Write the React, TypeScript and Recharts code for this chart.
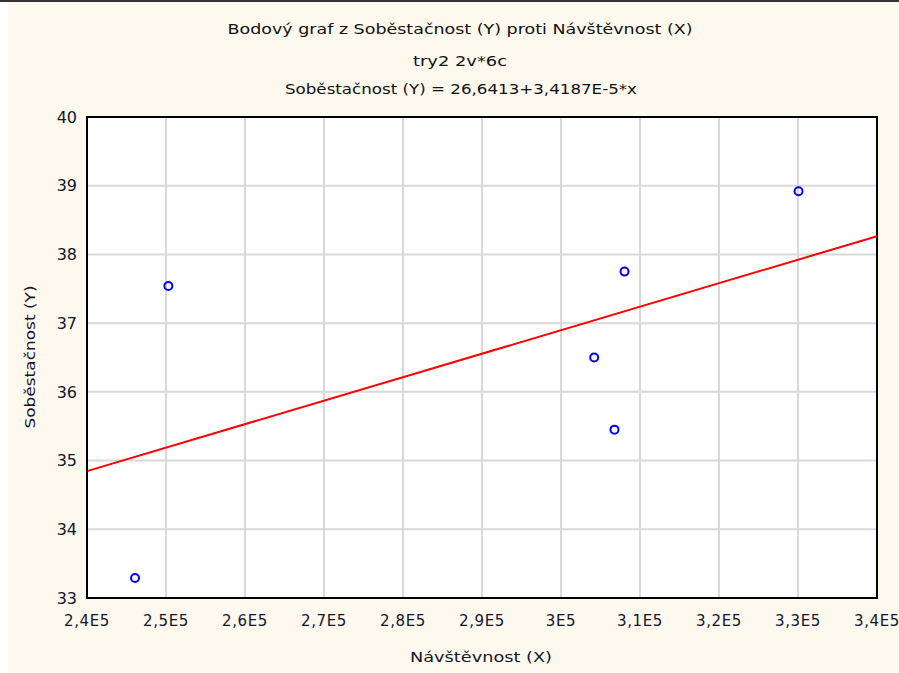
import React from "react";
import {
  ScatterChart,
  Scatter,
  XAxis,
  YAxis,
  CartesianGrid,
  ReferenceLine,
  ReferenceArea,
} from "recharts";

// ---- data ----
const visits = [246080, 250300, 304200, 306770, 308040, 330070];
const selfSufficiency = [33.29, 37.54, 36.5, 35.45, 37.75, 38.92];
const xTicks = [240000, 250000, 260000, 270000, 280000, 290000, 300000, 310000, 320000, 330000, 340000];
const xTickLabels = ["2,4E5", "2,5E5", "2,6E5", "2,7E5", "2,8E5", "2,9E5", "3E5", "3,1E5", "3,2E5", "3,3E5", "3,4E5"];
const yTicks = [33, 34, 35, 36, 37, 38, 39, 40];
const intercept = 26.6413;
const slope = 3.4187e-5;
const titleLines = [
  "Bodový graf z Soběstačnost (Y) proti Návštěvnost (X)",
  "try2 2v*6c",
  "Soběstačnost (Y) = 26,6413+3,4187E-5*x",
];
const xLabel = "Návštěvnost (X)";
const yLabel = "Soběstačnost (Y)";

const points = visits.map((x, i) => ({ x, y: selfSufficiency[i] }));
const xMin = xTicks[0];
const xMax = xTicks[xTicks.length - 1];
const yMin = yTicks[0];
const yMax = yTicks[yTicks.length - 1];

const FONT = "'DejaVu Sans', Verdana, sans-serif";
const TEXT = "#14142a";

const Ring = (props: any) => {
  const { cx, cy } = props;
  if (cx == null || cy == null) return null;
  return <circle cx={cx} cy={cy} r={4} fill="none" stroke="#0000ff" strokeWidth={2} />;
};

export default function App() {
  return (
    <div
      style={{
        position: "absolute",
        left: 0,
        top: 0,
        width: 899,
        height: 673,
        background: "#ffffff",
        overflow: "hidden",
      }}
    >
      <div
        style={{
          position: "absolute",
          left: 8,
          top: 0,
          width: 891,
          height: 673,
          background: "#fdf9ee",
        }}
      />
      <div
        style={{
          position: "absolute",
          left: 0,
          top: 0,
          width: 899,
          height: 2,
          background: "#333333",
        }}
      />
      <div style={{ position: "absolute", left: 0, top: 0 }}>
        <ScatterChart
          width={899}
          height={673}
          margin={{ top: 117, right: 22, bottom: 15, left: 7 }}
        >
          <CartesianGrid fill="#ffffff" stroke="#d9d9d9" strokeWidth={2} />
          <XAxis
            type="number"
            dataKey="x"
            domain={[xMin, xMax]}
            ticks={xTicks}
            interval={0}
            height={60}
            tickLine={false}
            tickSize={0}
            tickMargin={17}
            axisLine={{ stroke: "#000", strokeWidth: 2 }}
            tickFormatter={(v: number) => xTickLabels[xTicks.indexOf(v)] ?? String(v)}
            tick={{ fontSize: 15, fontFamily: FONT, fill: TEXT, letterSpacing: 0.6 }}
            allowDataOverflow
          />
          <YAxis
            type="number"
            dataKey="y"
            domain={[yMin, yMax]}
            ticks={yTicks}
            interval={0}
            width={80}
            tickLine={false}
            tickSize={0}
            tickMargin={10}
            axisLine={{ stroke: "#000", strokeWidth: 2 }}
            tick={{ fontSize: 16, fontFamily: FONT, fill: TEXT }}
            allowDataOverflow
          />
          <ReferenceLine
            segment={[
              { x: xMin, y: intercept + slope * xMin },
              { x: xMax, y: intercept + slope * xMax },
            ]}
            stroke="#ff0000"
            strokeWidth={2}
            ifOverflow="extendDomain"
          />
          <ReferenceArea
            x1={xMin}
            x2={xMax}
            y1={yMin}
            y2={yMax}
            fill="none"
            fillOpacity={0}
            stroke="#000"
            strokeWidth={2}
          />
          <Scatter data={points} shape={<Ring />} isAnimationActive={false} />
        </ScatterChart>
      </div>
      <svg
        width={899}
        height={673}
        style={{ position: "absolute", left: 0, top: 0, pointerEvents: "none" }}
      >
        <g fontFamily={FONT} fontSize={14} fill="#111">
          <text x={460} y={34} textAnchor="middle" textLength={465} lengthAdjust="spacingAndGlyphs">
            {titleLines[0]}
          </text>
          <text x={460} y={66} textAnchor="middle" textLength={94} lengthAdjust="spacingAndGlyphs">
            {titleLines[1]}
          </text>
          <text x={461} y={94} textAnchor="middle" textLength={352} lengthAdjust="spacingAndGlyphs">
            {titleLines[2]}
          </text>
          <text x={481} y={662} textAnchor="middle" textLength={142} lengthAdjust="spacingAndGlyphs" fill={TEXT}>
            {xLabel}
          </text>
          <text
            x={0}
            y={0}
            transform="translate(35,357) rotate(-90)"
            textAnchor="middle"
            textLength={143}
            lengthAdjust="spacingAndGlyphs"
            fill={TEXT}
          >
            {yLabel}
          </text>
        </g>
      </svg>
    </div>
  );
}
